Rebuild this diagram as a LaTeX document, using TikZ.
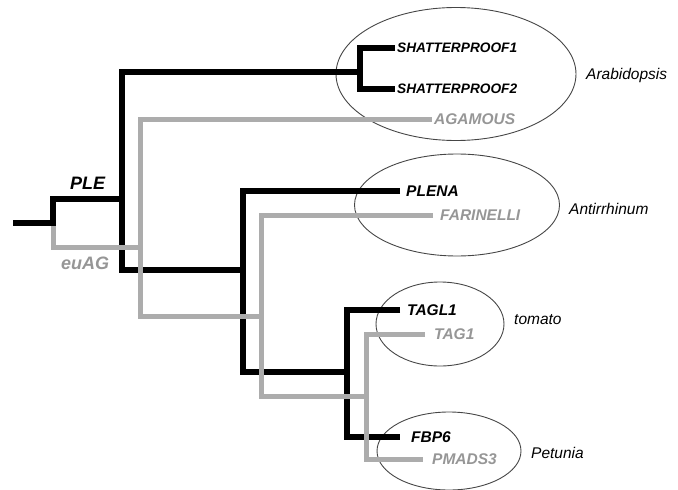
\documentclass[tikz,border=0pt]{standalone}
\usepackage{fontspec}
\setmainfont{Liberation Sans}
\usetikzlibrary{shapes.geometric}
\definecolor{lgray}{RGB}{172,172,172}
\definecolor{tgray}{RGB}{150,150,150}
\definecolor{egray}{RGB}{70,70,70}
\tikzset{
  blk/.style={line width=5.5pt, black, line join=miter},
  gry/.style={line width=5pt, lgray, line join=miter},
  gene/.style={anchor=west, inner ysep=0pt, font=\fontsize{15.5}{18}\selectfont\bfseries\itshape},
  ggene/.style={gene, text=tgray},
  species/.style={anchor=base west, inner sep=0pt, font=\fontsize{15.5}{18}\selectfont\itshape},
  clade/.style={draw=egray, line width=0.9pt, ellipse, inner sep=0pt},
  anc/.style={anchor=base west, inner sep=0pt, font=\fontsize{18}{21}\selectfont\bfseries\itshape},
}
\begin{document}
\begin{tikzpicture}[x=1pt,y=-1pt]
\useasboundingbox (0,0) rectangle (678,490);
% clade ellipses
\node[clade, minimum width=240pt, minimum height=133pt] (e-arab) at (456,74) {};
\node[clade, minimum width=205pt, minimum height=102pt] (e-anti) at (457,205) {};
\node[clade, minimum width=128pt, minimum height=84pt] (e-tom) at (440,324) {};
\node[clade, minimum width=144pt, minimum height=78pt] (e-pet) at (449,451) {};
% gene labels
\node[gene, inner xsep=2pt, font=\fontsize{13.7}{16}\selectfont\bfseries\itshape] (sh1) at (395,48) {SHATTERPROOF1};
\node[gene, inner xsep=2pt, font=\fontsize{13.7}{16}\selectfont\bfseries\itshape] (sh2) at (395,89) {SHATTERPROOF2};
\node[ggene, inner xsep=2pt] (agamous) at (432,119) {AGAMOUS};
\node[gene, inner xsep=6pt] (plena) at (400,191) {PLENA};
\node[ggene, inner xsep=7pt] (farinelli) at (433,215) {FARINELLI};
\node[gene, inner xsep=7pt] (tagl1) at (400,310) {TAGL1};
\node[ggene, inner xsep=9pt] (tag1) at (425,334) {TAG1};
\node[gene, inner xsep=11pt] (fbp6) at (400,437) {FBP6};
\node[ggene, inner xsep=9pt] (pmads3) at (423,459) {PMADS3};
% species
\node[species] (arabidopsis) at (586,79) {Arabidopsis};
\node[species] (antirrhinum) at (569,214) {Antirrhinum};
\node[species] (tomato) at (514,324) {tomato};
\node[species] (petunia) at (531,458) {Petunia};
% ancestral labels
\node[anc] (ple) at (70,189) {PLE};
\node[anc, text=tgray] (euag) at (61,269) {euAG};
% junction coordinates
\coordinate (r0) at (13,223);
\coordinate (j0) at (53,223);
\coordinate (jg) at (53,226);
\coordinate (b1) at (122,199);
\coordinate (bS) at (360,72);
\coordinate (bP) at (243,270);
\coordinate (bT) at (347,372);
\coordinate (g1) at (140,247);
\coordinate (gF) at (261,316);
\coordinate (gT) at (366,396);
% black tree
\draw[blk] (r0) -- (j0) |- (b1);
\draw[blk] (bS) -| (b1) |- (bP);
\draw[blk] (sh1.west) -| (bS) |- (sh2.west);
\draw[blk] (plena.west) -| (bP) |- (bT);
\draw[blk] (tagl1.west) -| (bT) |- (fbp6.west);
% gray tree
\draw[gry] (jg) |- (g1);
\draw[gry] (agamous.west) -| (g1) |- (gF);
\draw[gry] (farinelli.west) -| (gF) |- (gT);
\draw[gry] (tag1.west) -| (gT) |- (pmads3.west);
\end{tikzpicture}
\end{document}
